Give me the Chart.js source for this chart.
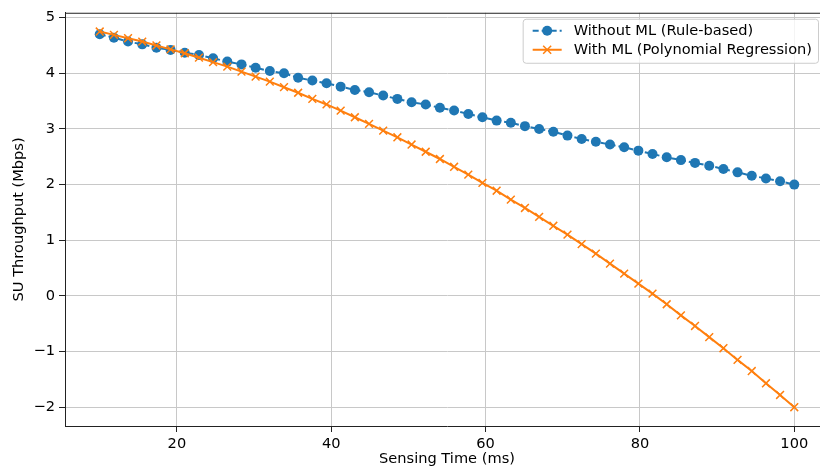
<!DOCTYPE html>
<html>
<head>
<meta charset="utf-8">
<script src="https://cdn.jsdelivr.net/npm/chart.js@4.4.0/dist/chart.umd.min.js"></script>
<style>
    html, body { margin: 0; padding: 0; background: #fff; overflow: hidden; }
    #wrap { width: 840px; height: 468px; }
</style>
</head>
<body>
<div id="wrap"><canvas id="myChart" width="840" height="468"></canvas></div>
<script>
const sensingTime = [10.00, 11.84, 13.67, 15.51, 17.35, 19.18, 21.02, 22.86, 24.69, 26.53,
    28.37, 30.20, 32.04, 33.88, 35.71, 37.55, 39.39, 41.22, 43.06, 44.90,
    46.73, 48.57, 50.41, 52.24, 54.08, 55.92, 57.76, 59.59, 61.43, 63.27,
    65.10, 66.94, 68.78, 70.61, 72.45, 74.29, 76.12, 77.96, 79.80, 81.63,
    83.47, 85.31, 87.14, 88.98, 90.82, 92.65, 94.49, 96.33, 98.16, 100.00];
const withoutML = [4.70, 4.64, 4.57, 4.52, 4.46, 4.42, 4.37, 4.33, 4.27, 4.21,
    4.16, 4.10, 4.04, 4.00, 3.92, 3.87, 3.82, 3.76, 3.70, 3.66,
    3.60, 3.54, 3.48, 3.44, 3.38, 3.33, 3.27, 3.21, 3.15, 3.11,
    3.05, 3.00, 2.95, 2.88, 2.82, 2.77, 2.72, 2.67, 2.61, 2.55,
    2.49, 2.44, 2.39, 2.34, 2.28, 2.22, 2.16, 2.11, 2.06, 2.00];
const withML = [4.75, 4.69, 4.63, 4.57, 4.50, 4.43, 4.36, 4.28, 4.20, 4.12,
    4.03, 3.94, 3.85, 3.75, 3.65, 3.54, 3.44, 3.33, 3.21, 3.09,
    2.97, 2.85, 2.72, 2.59, 2.46, 2.32, 2.18, 2.03, 1.89, 1.73,
    1.58, 1.42, 1.26, 1.10, 0.93, 0.76, 0.58, 0.40, 0.22, 0.04,
    -0.15, -0.35, -0.54, -0.74, -0.94, -1.15, -1.35, -1.57, -1.78, -2.00];
const xTicks = [20, 40, 60, 80, 100];
const yTicks = [-2, -1, 0, 1, 2, 3, 4, 5];
const yTickLabels = ['\u22122', '\u22121', '0', '1', '2', '3', '4', '5'];
const seriesNames = ['Without ML (Rule-based)', 'With ML (Polynomial Regression)'];

const blue = '#1f77b4';
const orange = '#ff7f0e';
const font = { family: 'DejaVu Sans', size: 14.6 };

// top spine + legend box like matplotlib
const frame = {
    id: 'frame',
    afterDraw(chart) {
        const c = chart.ctx;
        const a = chart.chartArea;
        c.save();
        c.strokeStyle = '#222';
        c.lineWidth = 1;
        c.beginPath();
        c.moveTo(a.left, a.top + 0.5);
        c.lineTo(a.right, a.top + 0.5);
        c.stroke();

        c.font = '14.6px "DejaVu Sans"';
        const textW = Math.max(...seriesNames.map(s => c.measureText(s).width));
        const w = 10 + 29 + 12 + textW + 6;
        const h = 44;
        const right = a.right - 11;
        const left = right - w;
        const top = a.top + 6;
        c.fillStyle = 'rgba(255,255,255,0.8)';
        c.strokeStyle = '#cccccc';
        c.beginPath();
        c.roundRect(left + 0.5, top + 0.5, w, h, 3);
        c.fill();
        c.stroke();

        const rows = [top + 12, top + 31];
        const x0 = left + 10, x1 = left + 39, xm = (x0 + x1) / 2;
        // row 1: dashed blue with dot
        c.strokeStyle = blue;
        c.lineWidth = 2;
        c.setLineDash([6, 3]);
        c.beginPath();
        c.moveTo(x0, rows[0]);
        c.lineTo(x1, rows[0]);
        c.stroke();
        c.setLineDash([]);
        c.fillStyle = blue;
        c.beginPath();
        c.arc(xm, rows[0], 5, 0, Math.PI * 2);
        c.fill();
        // row 2: solid orange with x
        c.strokeStyle = orange;
        c.beginPath();
        c.moveTo(x0, rows[1]);
        c.lineTo(x1, rows[1]);
        c.stroke();
        c.lineWidth = 1.5;
        c.beginPath();
        c.moveTo(xm - 4, rows[1] - 4); c.lineTo(xm + 4, rows[1] + 4);
        c.moveTo(xm - 4, rows[1] + 4); c.lineTo(xm + 4, rows[1] - 4);
        c.stroke();

        c.fillStyle = '#000';
        c.textBaseline = 'middle';
        c.textAlign = 'left';
        c.fillText(seriesNames[0], x1 + 12, rows[0]);
        c.fillText(seriesNames[1], x1 + 12, rows[1]);
        c.restore();
    }
};

const ctx = document.getElementById('myChart');
new Chart(ctx, {
    type: 'line',
    data: {
        datasets: [{
            label: seriesNames[0],
            data: sensingTime.map((t, i) => ({ x: t, y: withoutML[i] })),
            borderColor: blue,
            backgroundColor: blue,
            borderWidth: 2,
            borderDash: [6, 3],
            pointStyle: 'circle',
            pointRadius: 5,
            pointBorderWidth: 0,
            order: 2,
        }, {
            label: seriesNames[1],
            data: sensingTime.map((t, i) => ({ x: t, y: withML[i] })),
            borderColor: orange,
            backgroundColor: orange,
            borderWidth: 2,
            pointStyle: 'crossRot',
            pointRadius: 5.5,
            pointBorderWidth: 1.5,
            order: 1,
        }]
    },
    options: {
        responsive: false,
        animation: false,
        devicePixelRatio: 1,
        layout: { padding: { left: 0, top: 12, right: 11, bottom: 0 } },
        plugins: {
            legend: { display: false },
            tooltip: { enabled: false }
        },
        scales: {
            x: {
                type: 'linear',
                min: 5.5,
                max: 104.5,
                afterBuildTicks: (scale) => { scale.ticks = xTicks.map(v => ({ value: v })); },
                afterFit: (scale) => { scale.height = 42; },
                ticks: { font: font, color: '#000', padding: 3, maxRotation: 0 },
                grid: { color: '#c8c8c8', lineWidth: 1, tickColor: '#222', tickLength: 6 },
                border: { display: true, color: '#222', width: 1 },
                title: {
                    display: true,
                    text: 'Sensing Time (ms)',
                    font: font,
                    color: '#000',
                    padding: { top: 0, bottom: 0 }
                }
            },
            y: {
                type: 'linear',
                min: -2.3375,
                max: 5.0875,
                afterBuildTicks: (scale) => { scale.ticks = yTicks.map(v => ({ value: v })); },
                afterFit: (scale) => { scale.width = 65; },
                ticks: {
                    font: font,
                    color: '#000',
                    padding: 4,
                    callback: function (value) {
                        return yTickLabels[yTicks.indexOf(value)];
                    }
                },
                grid: { color: '#c8c8c8', lineWidth: 1, tickColor: '#222', tickLength: 6 },
                border: { display: true, color: '#222', width: 1 },
                title: {
                    display: true,
                    text: 'SU Throughput (Mbps)',
                    font: font,
                    color: '#000',
                    padding: { top: 10, bottom: 0 }
                }
            }
        }
    },
    plugins: [frame]
});
</script>
</body>
</html>
